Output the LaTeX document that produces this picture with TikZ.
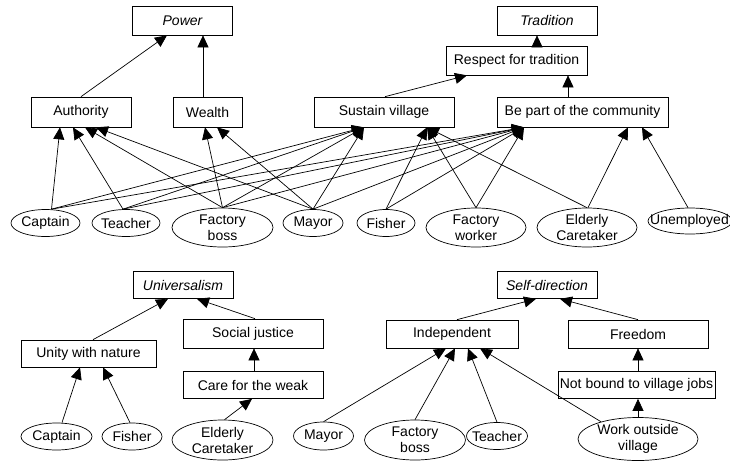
\documentclass[tikz,border=0pt]{standalone}
\usepackage{fontspec}
\setmainfont{Liberation Sans}
\usetikzlibrary{shapes.geometric,arrows.meta}
\begin{document}
\begin{tikzpicture}[x=1pt,y=-1pt,
  every node/.style={font=\fontsize{14}{16}\selectfont},
  box/.style={draw, rectangle, line width=0.7pt, inner sep=0pt, minimum height=28pt},
  ell/.style={draw, ellipse, line width=0.7pt, inner sep=0pt},
  lab/.style={align=center, inner sep=0pt},
  arr/.style={line width=0.7pt, -{Triangle[length=12pt,width=11pt]}}
]
\useasboundingbox (0,0) rectangle (730,471);

% ---------- upper diagram: boxes ----------
\node[box, minimum width=100pt, minimum height=29pt] (power) at (182.5,20.5) {\itshape Power};
\node[box, minimum width=100pt, minimum height=29pt] (trad) at (547,20.5) {\itshape Tradition};
\node[box, minimum width=141pt, minimum height=29pt] (resp) at (516.5,60.5) {Respect for tradition};
\node[box, minimum width=100pt, minimum height=30pt] (auth) at (81,112) {Authority};
\node[box, minimum width=69pt, minimum height=30pt] (wealth) at (207.5,112) {Wealth};
\node[box, minimum width=140pt, minimum height=30pt] (sust) at (384,112) {Sustain village};
\node[box, minimum width=171pt, minimum height=30pt] (bepart) at (582.5,112) {Be part of the community};

% ---------- upper diagram: actors ----------
\node[ell, minimum width=69pt, minimum height=27pt, label={[lab]center:Captain}] (capt1) at (45.5,223) {};
\node[ell, minimum width=68pt, minimum height=27pt, label={[lab]center:Teacher}] (teach1) at (126,223) {};
\node[ell, minimum width=101pt, minimum height=39pt, label={[lab]center:Factory\\boss}] (fboss1) at (222.5,227.5) {};
\node[ell, minimum width=60pt, minimum height=27pt, label={[lab]center:Mayor}] (mayor1) at (313,223) {};
\node[ell, minimum width=58pt, minimum height=27pt, label={[lab]center:Fisher}] (fisher1) at (386,223) {};
\node[ell, minimum width=100pt, minimum height=39pt, label={[lab]center:Factory\\worker}] (fworker1) at (476,227.5) {};
\node[ell, minimum width=100pt, minimum height=39pt, label={[lab]center:Elderly\\Caretaker}] (elder1) at (587,227.5) {};
\node[ell, minimum width=84pt, minimum height=26pt, label={[lab,xshift=-0.5pt]center:Unemployed}] (unemp1) at (690,221) {};

% ---------- upper diagram: connectors ----------
\draw[arr] (auth.north) -- ([xshift=-15.5pt]power.south);
\draw[arr] ([xshift=-4.5pt]wealth.north) -- ([xshift=20.5pt]power.south);
\draw[arr] ([xshift=1pt]sust.north) -- ([xshift=-49.5pt]resp.south);
\draw[arr] ([xshift=-14.5pt]bepart.north) -- ([xshift=51.5pt]resp.south);
\draw[arr] ([xshift=20.5pt]resp.north) -- ([xshift=-10pt]trad.south);

% to Authority
\draw[arr] ([xshift=6pt]capt1.north) -- ([xshift=-21pt]auth.south);
\draw[arr] ([xshift=-3pt]teach1.north) -- ([xshift=-8pt]auth.south);
\draw[arr] (fboss1.north) -- ([xshift=4pt]auth.south);
\draw[arr] (mayor1.north) -- ([xshift=15pt]auth.south);
% to Wealth
\draw[arr] (fboss1.north) -- ([xshift=-2.5pt]wealth.south);
\draw[arr] (mayor1.north) -- ([xshift=9.5pt]wealth.south);
% to Sustain village
\draw[arr] ([xshift=6pt]capt1.north) -- ([xshift=-20pt]sust.south);
\draw[arr] ([xshift=-3pt]teach1.north) -- ([xshift=-20pt]sust.south);
\draw[arr] (fboss1.north) -- ([xshift=-20pt]sust.south);
\draw[arr] (mayor1.north) -- ([xshift=-20pt]sust.south);
\draw[arr] (fisher1.north) -- ([xshift=43pt]sust.south);
\draw[arr] (fworker1.north) -- ([xshift=43pt]sust.south);
\draw[arr] (elder1.north) -- ([xshift=43pt]sust.south);
% to Be part of the community
\draw[arr] ([xshift=6pt]capt1.north) -- ([xshift=-58.5pt]bepart.south);
\draw[arr] ([xshift=-3pt]teach1.north) -- ([xshift=-58.5pt]bepart.south);
\draw[arr] (fboss1.north) -- ([xshift=-58.5pt]bepart.south);
\draw[arr] (mayor1.north) -- ([xshift=-58.5pt]bepart.south);
\draw[arr] (fisher1.north) -- ([xshift=-58.5pt]bepart.south);
\draw[arr] (fworker1.north) -- ([xshift=-58.5pt]bepart.south);
\draw[arr] ([xshift=1pt]elder1.north) -- ([xshift=45.5pt]bepart.south);
\draw[arr] ([xshift=-2pt]unemp1.north) -- ([xshift=59.5pt]bepart.south);

% ---------- lower left: Universalism ----------
\node[box, minimum width=100pt, minimum height=27pt] (univ) at (183,285) {\itshape Universalism};
\node[box, minimum width=135pt, minimum height=27pt] (unity) at (88.5,353.5) {Unity with nature};
\node[box, minimum width=140pt, minimum height=29pt] (socj) at (253,333.5) {Social justice};
\node[box, minimum width=140pt, minimum height=27pt] (care) at (253,385) {Care for the weak};

\node[ell, minimum width=71pt, minimum height=27pt, label={[lab]center:Captain}] (capt2) at (56.5,436.5) {};
\node[ell, minimum width=60pt, minimum height=27pt, label={[lab]center:Fisher}] (fisher2) at (132,436.5) {};
\node[ell, minimum width=101pt, minimum height=40pt, label={[lab]center:Elderly\\Caretaker}] (elder2) at (222.5,440) {};

\draw[arr] ([xshift=4.5pt]unity.north) -- ([xshift=-15pt]univ.south);
\draw[arr] ([xshift=2pt]socj.north) -- ([xshift=14pt]univ.south);
\draw[arr] ([xshift=1pt]care.north) -- ([xshift=1pt]socj.south);
\draw[arr] ([xshift=2pt]elder2.north) -- ([xshift=-1pt]care.south);
\draw[arr] ([xshift=5.5pt]capt2.north) -- ([xshift=-8.5pt]unity.south);
\draw[arr] ([xshift=-2pt]fisher2.north) -- ([xshift=14.5pt]unity.south);

% ---------- lower right: Self-direction ----------
\node[box, minimum width=100pt, minimum height=27pt] (selfd) at (547,285) {\itshape Self-direction};
\node[box, minimum width=132pt, minimum height=28pt] (indep) at (452,334) {Independent};
\node[box, minimum width=140pt, minimum height=28pt] (freedom) at (638,334) {Freedom};
\node[box, minimum width=157pt, minimum height=27pt] (notbound) at (636.5,385) {Not bound to village jobs};

\node[ell, minimum width=60pt, minimum height=28pt, label={[lab]center:Mayor}] (mayor2) at (323.5,436) {};
\node[ell, minimum width=101pt, minimum height=40pt, label={[lab]center:Factory\\boss}] (fboss2) at (415,440) {};
\node[ell, minimum width=61pt, minimum height=27pt, label={[lab]center:Teacher}] (teach2) at (497,436) {};
\node[ell, minimum width=120pt, minimum height=43pt, label={[lab]center:Work outside\\village}] (work2) at (638,439) {};

\draw[arr] ([xshift=5pt]indep.north) -- ([xshift=-11pt]selfd.south);
\draw[arr] (freedom.north) -- ([xshift=13pt]selfd.south);
\draw[arr] ([xshift=1.5pt]notbound.north) -- (freedom.south);
\draw[arr] (work2.north) -- ([xshift=1.5pt]notbound.south);
\draw[arr] (mayor2.north) -- ([xshift=-6pt]indep.south);
\draw[arr] (fboss2.north) -- ([xshift=3pt]indep.south);
\draw[arr] (teach2.north) -- ([xshift=16pt]indep.south);
\draw[arr] (work2.155) -- ([xshift=28pt]indep.south);
\end{tikzpicture}
\end{document}
